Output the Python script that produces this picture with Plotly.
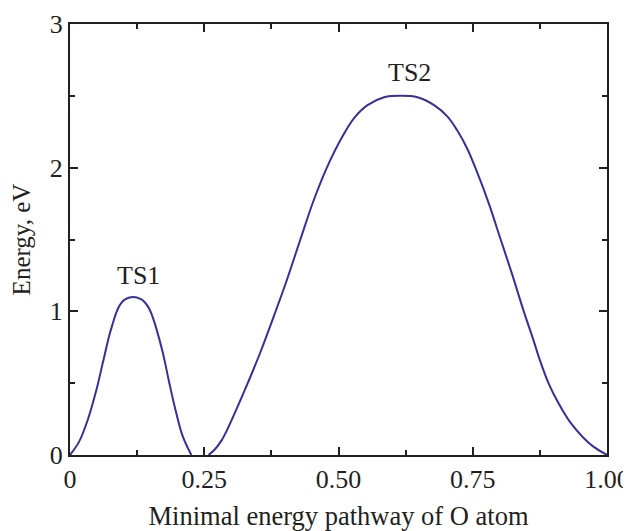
import plotly.graph_objects as go

# Segment 1 (TS1 barrier)
x1 = [0.0, 0.017, 0.033, 0.049, 0.061, 0.073, 0.080, 0.086, 0.093, 0.101, 0.117, 0.132, 0.140,
      0.148, 0.154, 0.160, 0.173, 0.185, 0.198, 0.210, 0.226]
e1 = [0.0, 0.093, 0.244, 0.45, 0.64, 0.83, 0.92, 0.99, 1.045, 1.08, 1.10, 1.085, 1.06,
      1.015, 0.96, 0.89, 0.71, 0.50, 0.29, 0.13, 0.0]

# Segment 2 (TS2 barrier)
x2 = [0.258, 0.270, 0.282, 0.292, 0.323, 0.354, 0.379, 0.404, 0.429, 0.454, 0.479, 0.507,
      0.529, 0.554, 0.585, 0.616, 0.647, 0.678, 0.703, 0.721, 0.740, 0.759, 0.780, 0.802,
      0.824, 0.845, 0.863, 0.875, 0.891, 0.909, 0.931, 0.956, 0.974, 1.0]
e2 = [0.0, 0.04, 0.10, 0.17, 0.43, 0.71, 0.96, 1.22, 1.50, 1.775, 2.006, 2.215,
      2.345, 2.435, 2.49, 2.50, 2.49, 2.435, 2.355, 2.26, 2.13, 1.96, 1.75, 1.50,
      1.25, 1.00, 0.80, 0.66, 0.50, 0.365, 0.23, 0.12, 0.06, 0.0]

labels = ["TS1", "TS2"]
label_x = [0.127, 0.632]
label_y = [1.25, 2.66]

xticks = [0, 0.25, 0.5, 0.75, 1.0]
xticktext = ["0", "0.25", "0.50", "0.75", "1.00"]
yticks = [0, 1, 2, 3]

color = "#35309a"
ink = "#231f20"
font = "Liberation Serif, Times New Roman, serif"

fig = go.Figure()
for xs, es in [(x1, e1), (x2, e2)]:
    fig.add_trace(go.Scatter(x=xs, y=es, mode="lines",
                             line=dict(color=color, width=2, shape="spline", smoothing=1.0),
                             showlegend=False, hoverinfo="skip", cliponaxis=False))

for t, lx, ly in zip(labels, label_x, label_y):
    fig.add_annotation(x=lx, y=ly, text=t, showarrow=False,
                       font=dict(family=font, size=26, color=ink))

axis_common = dict(showline=True, linecolor=ink, linewidth=2, mirror="ticks",
                   ticks="inside", ticklen=8, tickwidth=1.5, tickcolor=ink,
                   showgrid=False, zeroline=False, automargin=False,
                   tickfont=dict(family=font, size=26, color=ink))

fig.update_xaxes(range=[0, 1], tickvals=xticks, ticktext=xticktext,
                 minor=dict(dtick=0.125, ticks="inside", ticklen=5, tickwidth=1.5, tickcolor=ink),
                 title=dict(text="Minimal energy pathway of O atom", standoff=16,
                            font=dict(family=font, size=26.5, color=ink)),
                 **axis_common)
fig.update_yaxes(range=[0, 3], tickvals=yticks,
                 minor=dict(dtick=0.5, ticks="inside", ticklen=5, tickwidth=1.5, tickcolor=ink),
                 title=dict(text="Energy, eV", standoff=13,
                            font=dict(family=font, size=25, color=ink)),
                 **axis_common)

fig.update_layout(width=623, height=523, margin=dict(l=62, r=24, t=16, b=76),
                  plot_bgcolor="white", paper_bgcolor="white")

fig.write_html("out.html")
